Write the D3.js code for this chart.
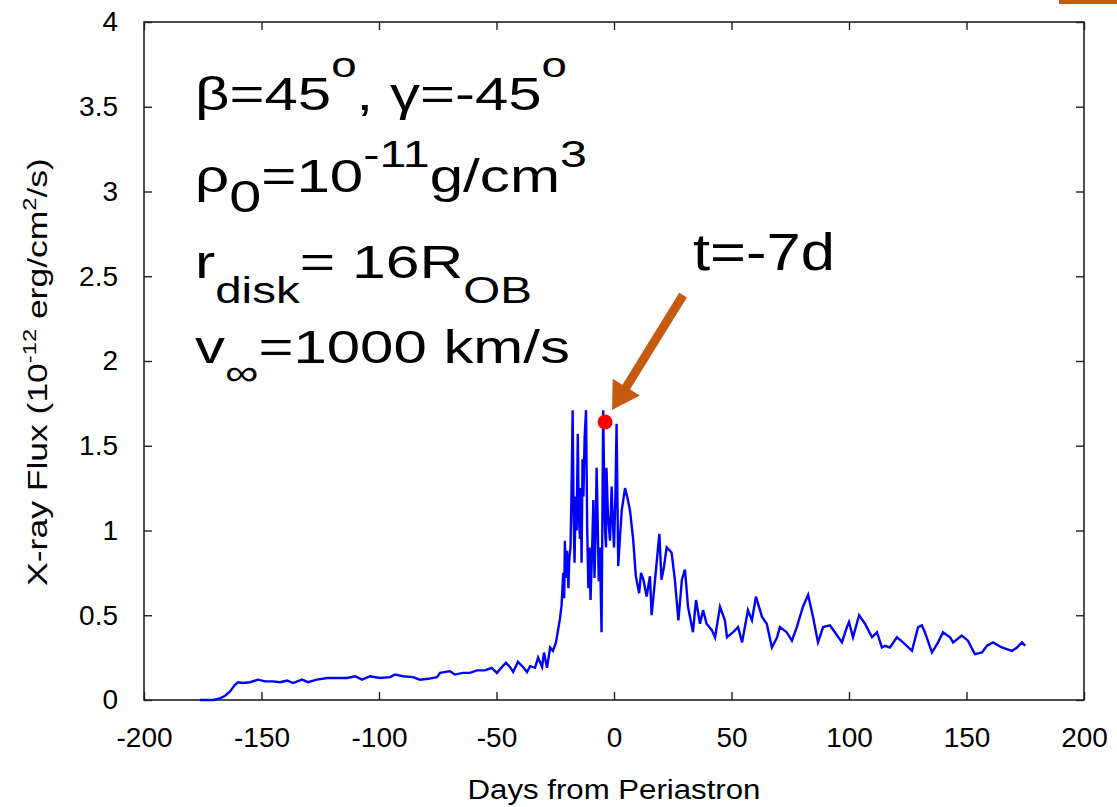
<!DOCTYPE html>
<html>
<head>
<meta charset="utf-8">
<script src="https://cdn.jsdelivr.net/npm/d3@7"></script>
<style>
  body { margin: 0; background: #fff; }
  svg { display: block; font-family: "Liberation Sans", Arial, Helvetica, sans-serif; }
</style>
</head>
<body>
<svg id="chart" width="1117" height="807"></svg>
<script>
// x-ray light curve (days from periastron, flux in 1e-12 erg/cm2/s)
const days = [
  -176.2, -170.6, -167.7, -165.5, -163.4, -161.3, -160, -157.9, -154.9, -151.5,
  -148.5, -145.1, -142.1, -139.1, -136.6, -132.8, -130.2, -126.4, -122.1, -117.9,
  -113.6, -110.2, -107.2, -103.8, -99.6, -95.3, -93.2, -89.8, -85.5, -82.6,
  -79.1, -75.3, -74, -69.8, -67.7, -64.3, -61.3, -58.3, -54.9, -52.1,
  -49.8, -47.7, -46, -44.3, -42.9, -40.9, -38.7, -37, -35.7, -33.6,
  -32.3, -30.6, -29.8, -28.5, -27.2, -26, -24.7,
  -23.7, -23, -22.3, -21.6, -21.2, -20.9, -20.5, -20, -19.4, -19,
  -18.5, -18, -17.6, -17.2, -16.8, -16.3, -15.9, -15.4, -15, -14.5,
  -14.1, -13.8, -13.4, -13, -12.5, -11.9, -11.4, -10.9, -10.4, -10,
  -9.5, -9.1, -8.8, -8.3, -7.8, -7.4, -7, -6.5, -6, -5.3,
  -4.6, -4.2, -3.8, -3.4, -3.2, -2.6, -1.7, -1, -0.5, 0,
  0.6, 1.1, 1.8, 2.5, 3.3, 4.7, 5.6, 6.8, 8.2, 9.3,
  10.7, 11.5, 12.5, 13.9, 15.3, 16, 17.4, 19.3, 20.2, 21.2,
  22.4, 24.5, 25.9, 27.4, 28.9, 30.2, 31.5, 33.6, 34.9, 36.6,
  37.9, 39.4, 41.7, 43, 45.1, 47.2, 48.1, 50.7, 52.8, 54.5,
  57, 58.7, 60.4, 63, 65, 67.2, 69.4, 70.6, 73.5, 75.7,
  77.8, 80.4, 82.6, 84.7, 86.8, 89, 91.9, 94, 97, 99.1,
  100, 101.7, 104.3, 106.8, 109.8, 111.9, 114, 115.3, 117.4, 120.4,
  123, 126.8, 129.4, 131, 132.3, 135.3, 137.9, 140, 143, 144.3,
  148, 150.6, 153.6, 156.6, 158.7, 161.3, 165, 169.4, 171.5, 173.6, 175
];
const flux = [
  0, 0, 0.01, 0.025, 0.05, 0.09, 0.105, 0.10, 0.105, 0.12,
  0.11, 0.11, 0.105, 0.115, 0.10, 0.12, 0.105, 0.12, 0.13, 0.13,
  0.13, 0.14, 0.12, 0.14, 0.13, 0.135, 0.15, 0.14, 0.135, 0.12,
  0.125, 0.135, 0.16, 0.17, 0.15, 0.16, 0.16, 0.175, 0.175, 0.19,
  0.16, 0.195, 0.22, 0.195, 0.165, 0.225, 0.195, 0.165, 0.2, 0.19,
  0.25, 0.195, 0.28, 0.19, 0.31, 0.29, 0.34,
  0.42, 0.48, 0.56, 0.75, 0.6, 0.94, 0.72, 0.88, 0.66, 0.84,
  0.9, 1.3, 1.71, 1.1, 0.81, 1.2, 1.0, 1.57, 1.1, 0.95,
  1.25, 0.81, 1.42, 1.2, 1.55, 1.71, 1.0, 0.66, 0.9, 0.59,
  0.8, 1.0, 1.18, 0.72, 1.0, 1.37, 1.1, 0.7, 0.9, 0.4,
  1.71, 1.3, 1.0, 0.9, 1.37, 1.1, 0.94, 1.26, 1.05, 0.9,
  1.2, 1.63, 0.79, 0.95, 1.12, 1.25, 1.2, 1.12, 0.94, 0.73,
  0.63, 0.75, 0.71, 0.61, 0.73, 0.5, 0.7, 0.98, 0.71, 0.78,
  0.9, 0.87, 0.71, 0.47, 0.71, 0.77, 0.55, 0.4, 0.59, 0.45,
  0.53, 0.45, 0.41, 0.37, 0.55, 0.47, 0.37, 0.4, 0.43, 0.34,
  0.53, 0.47, 0.61, 0.49, 0.45, 0.31, 0.37, 0.43, 0.4, 0.35,
  0.43, 0.55, 0.62, 0.49, 0.34, 0.43, 0.44, 0.4, 0.34, 0.43,
  0.46, 0.37, 0.5, 0.45, 0.37, 0.4, 0.31, 0.32, 0.31, 0.37,
  0.34, 0.29, 0.43, 0.44, 0.4, 0.28, 0.34, 0.4, 0.37, 0.34,
  0.38, 0.35, 0.27, 0.28, 0.32, 0.34, 0.31, 0.29, 0.31, 0.34, 0.32
];
// highlighted moment (red dot)
const markerDay = [-3.8];
const markerFlux = [1.64];

const xTicks = [-200, -150, -100, -50, 0, 50, 100, 150, 200];
const yTicks = [0, 0.5, 1, 1.5, 2, 2.5, 3, 3.5, 4];

const margin = {top: 22, right: 33, bottom: 107, left: 144};
const W = 1117, H = 807;
const pw = W - margin.left - margin.right;   // 940
const ph = H - margin.top - margin.bottom;   // 678
const orange = "#c55a11";

const svg = d3.select("#chart");
const x = d3.scaleLinear().domain([-200, 200]).range([margin.left, margin.left + pw]);
const y = d3.scaleLinear().domain([0, 4]).range([margin.top + ph, margin.top]);

const fmt = d => String(d);

// ticks on all four sides, pointing inwards
svg.append("g")
  .attr("transform", `translate(0,${margin.top + ph})`)
  .call(d3.axisBottom(x).tickValues(xTicks).tickFormat(fmt).tickSizeInner(-8).tickSizeOuter(0).tickPadding(27))
  .call(g => g.select(".domain").remove());
svg.append("g")
  .attr("transform", `translate(0,${margin.top})`)
  .call(d3.axisTop(x).tickValues(xTicks).tickFormat("").tickSizeInner(-8).tickSizeOuter(0))
  .call(g => g.select(".domain").remove());
svg.append("g")
  .attr("transform", `translate(${margin.left},0)`)
  .call(d3.axisLeft(y).tickValues(yTicks).tickFormat(fmt).tickSizeInner(-8).tickSizeOuter(0).tickPadding(26))
  .call(g => g.select(".domain").remove());
svg.append("g")
  .attr("transform", `translate(${margin.left + pw},0)`)
  .call(d3.axisRight(y).tickValues(yTicks).tickFormat("").tickSizeInner(-8).tickSizeOuter(0))
  .call(g => g.select(".domain").remove());

svg.selectAll(".tick line").attr("stroke", "#222").attr("stroke-width", 1.4);
svg.selectAll(".tick text").attr("font-size", 28).attr("fill", "#000")
  .attr("font-family", "'Liberation Sans', Arial, sans-serif");

svg.append("rect")
  .attr("x", margin.left).attr("y", margin.top)
  .attr("width", pw).attr("height", ph)
  .attr("fill", "none").attr("stroke", "#222").attr("stroke-width", 1.6);

// light curve
const line = d3.line().x(d => x(d[0])).y(d => y(d[1]));
svg.append("path")
  .datum(d3.zip(days, flux))
  .attr("d", line)
  .attr("fill", "none")
  .attr("stroke", "#0000ff")
  .attr("stroke-width", 2.4);

// text helper: builds a text, then stretches it horizontally to the width seen in the figure
function label(x0, y0, target, size, build, opts = {}) {
  const g = svg.append("g");
  const t = g.append("text")
    .attr("font-size", size)
    .attr("fill", "#000")
    .attr("text-anchor", opts.anchor || "start");
  build(t);
  const s = target / t.node().getBBox().width;
  g.attr("transform", `translate(${x0},${y0}) rotate(${opts.rotate || 0}) scale(${s},1)`);
  return g;
}
const span = (t, txt, size, dy) => t.append("tspan").attr("font-size", size).attr("dy", dy || 0).text(txt);

// axis titles
label(614, 799, 293, 28, t => t.text("Days from Periastron"), {anchor: "middle"});
label(47, 372, 428, 27, t => {
  span(t, "X-ray Flux (10", 27);
  span(t, "-12", 18, -11);
  span(t, " erg/cm", 27, 11);
  span(t, "2", 18, -11);
  span(t, "/s)", 27, 11);
}, {anchor: "middle", rotate: -90});

// parameter block
label(195, 110, 372, 46, t => {
  span(t, "\u03b2=45", 46);
  span(t, "o", 35, -33);
  span(t, ", \u03b3=-45", 46, 33);
  span(t, "o", 35, -33);
});
label(195, 192, 392, 46, t => {
  span(t, "\u03c1", 46);
  span(t, "0", 44, 20);
  span(t, "=10", 46, -20);
  span(t, "-11", 37, -25);
  span(t, "g/cm", 46, 25);
  span(t, "3", 37, -25);
});
label(195, 278, 337, 46, t => {
  span(t, "r", 46);
  span(t, "disk", 36, 25);
  span(t, "= 16R", 46, -25);
  span(t, "OB", 36, 25);
});
label(195, 363, 375, 46, t => {
  span(t, "v", 46);
  span(t, "\u221e", 36, 22);
  span(t, "=1000 km/s", 46, -22);
});

// time annotation, arrow and dot
label(693, 270, 142, 52, t => t.text("t=-7d"));

const mx = x(markerDay[0]), my = y(markerFlux[0]);
const tip = [mx + 7, my - 12], tail = [mx + 78, my - 127];
const len = Math.hypot(tip[0] - tail[0], tip[1] - tail[1]);
const ux = (tip[0] - tail[0]) / len, uy = (tip[1] - tail[1]) / len;
const headL = 27, headW = 16;
const base = [tip[0] - headL * ux, tip[1] - headL * uy];
svg.append("line")
  .attr("x1", tail[0]).attr("y1", tail[1])
  .attr("x2", base[0] + 2 * ux).attr("y2", base[1] + 2 * uy)
  .attr("stroke", orange).attr("stroke-width", 9);
svg.append("path")
  .attr("d", d3.line()([
    tip,
    [base[0] - headW * uy, base[1] + headW * ux],
    [base[0] + headW * uy, base[1] - headW * ux]
  ]) + "Z")
  .attr("fill", orange);

svg.selectAll("circle.mark")
  .data(d3.zip(markerDay, markerFlux))
  .join("circle")
  .attr("class", "mark")
  .attr("cx", d => x(d[0])).attr("cy", d => y(d[1]))
  .attr("r", 7.5).attr("fill", "#ff0000");

// sliver of an orange shape cut at the top right corner
svg.append("rect")
  .attr("x", 1059).attr("y", 0).attr("width", 58).attr("height", 4)
  .attr("fill", orange);
</script>
</body>
</html>
